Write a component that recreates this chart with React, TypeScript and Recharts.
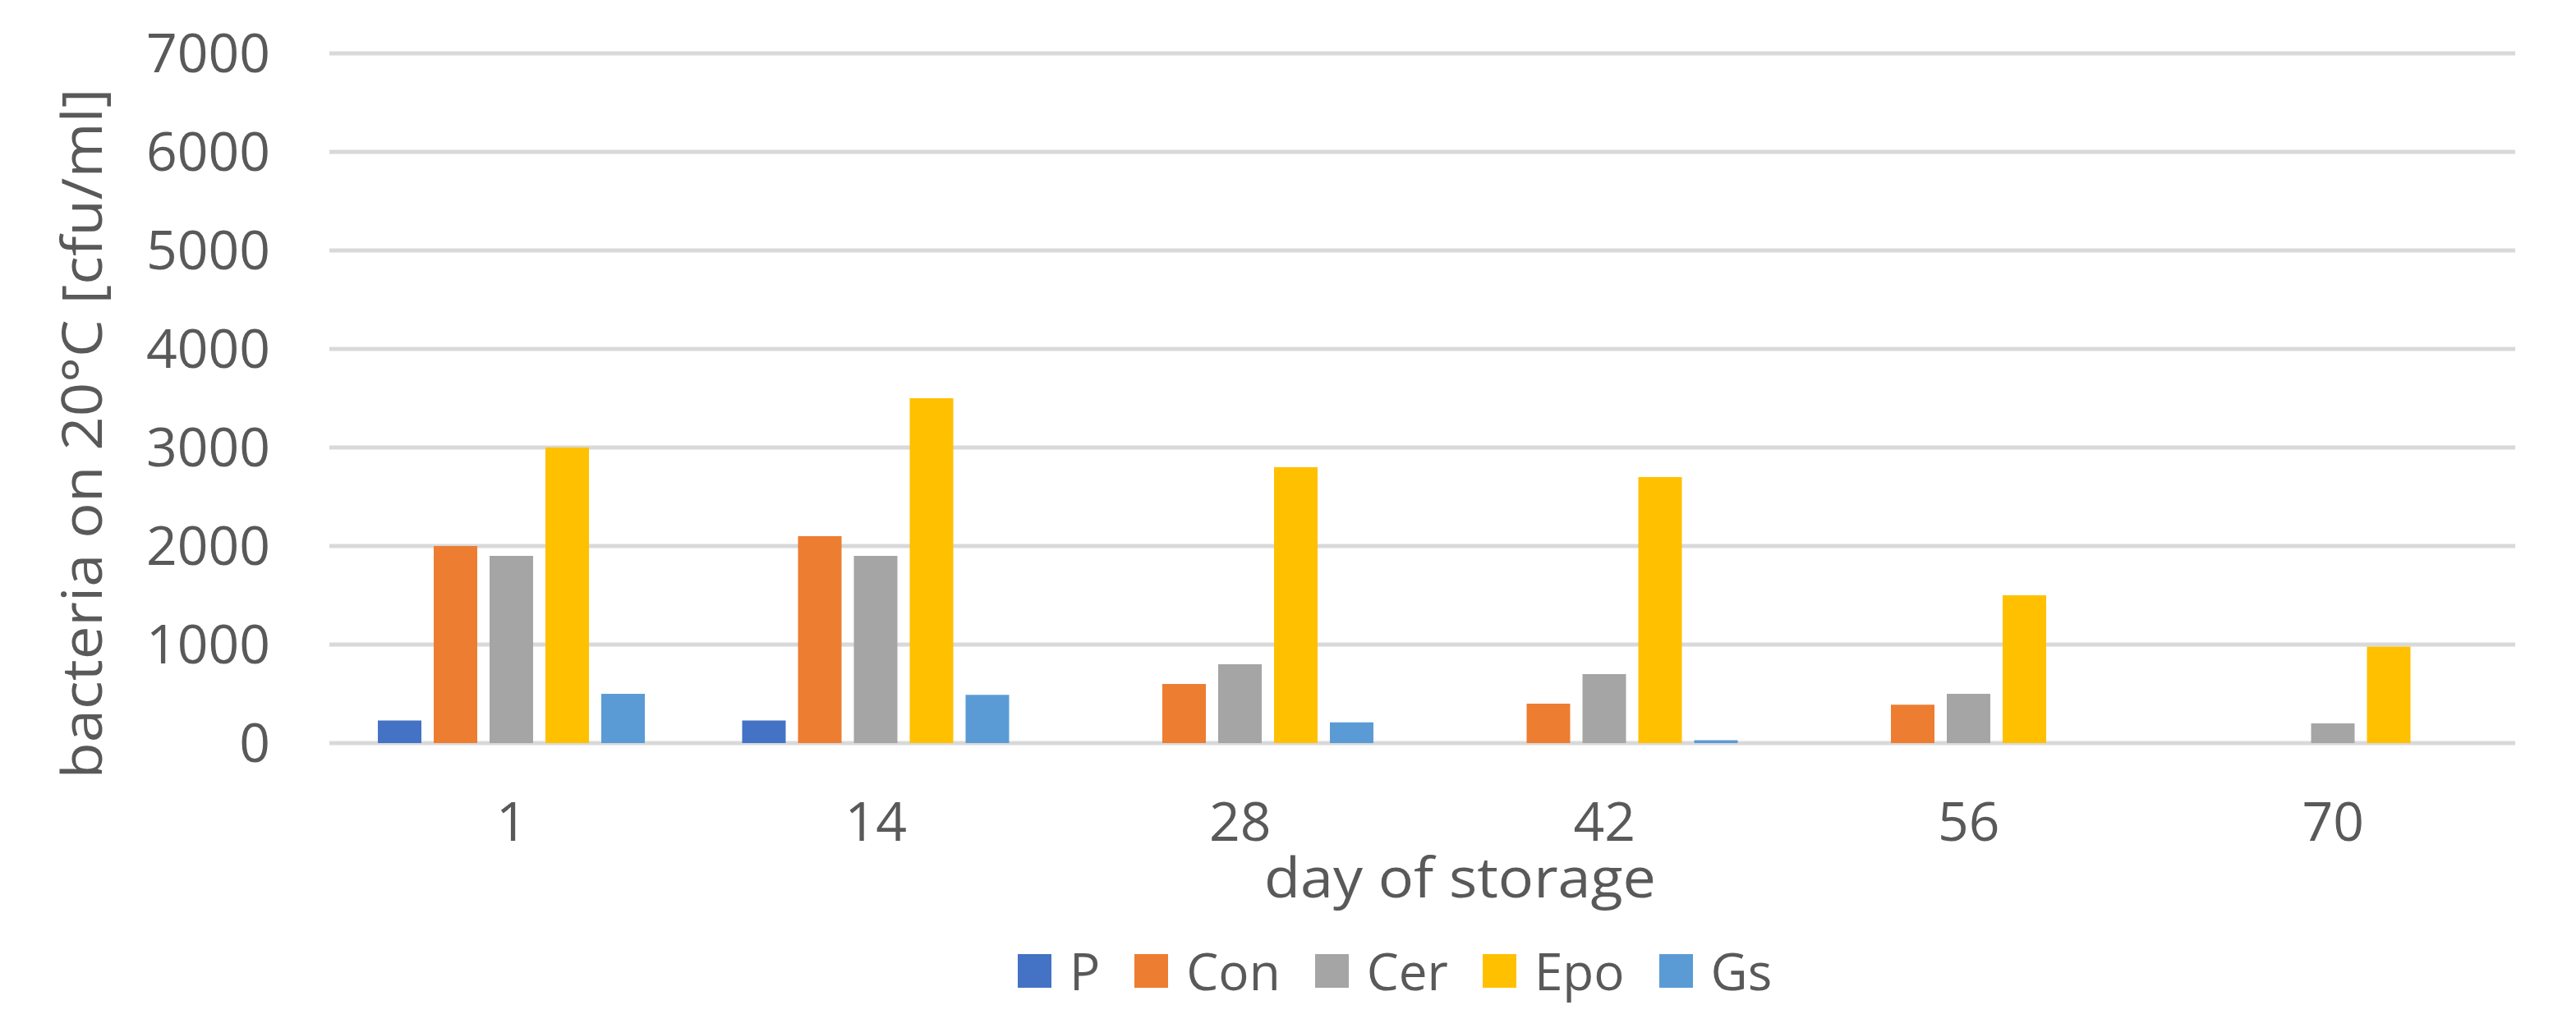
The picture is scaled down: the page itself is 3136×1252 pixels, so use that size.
import React from 'react';
import {
  BarChart,
  Bar,
  XAxis,
  YAxis,
  CartesianGrid,
  Legend,
} from 'recharts';

// days of storage on the category axis
const days = ['1', '14', '28', '42', '56', '70'];

// bacteria on 20°C [cfu/ml], one list per sample
const pValues = [230, 230, 0, 0, 0, 0];
const conValues = [2000, 2100, 600, 400, 390, 0];
const cerValues = [1900, 1900, 800, 700, 500, 200];
const epoValues = [3000, 3500, 2800, 2700, 1500, 980];
const gsValues = [500, 490, 210, 30, 0, 0];

const yTicks = [0, 1000, 2000, 3000, 4000, 5000, 6000, 7000];

const seriesNames = ['P', 'Con', 'Cer', 'Epo', 'Gs'];
const seriesColors = ['#4472C4', '#ED7D31', '#A5A5A5', '#FFC000', '#5B9BD5'];

const chartData = days.map((day, i) => ({
  day,
  P: pValues[i],
  Con: conValues[i],
  Cer: cerValues[i],
  Epo: epoValues[i],
  Gs: gsValues[i],
}));

const FONT = '"Open Sans", "Noto Sans", sans-serif';
const TEXT = '#595959';

const YTitle = (props: any) => {
  const vb = props.viewBox || {};
  const x = vb.x + 124;
  const y = 528;
  return (
    <text
      x={x}
      y={y}
      transform={`rotate(-90, ${x}, ${y})`}
      textAnchor="middle"
      fill={TEXT}
      fontSize={68}
      fontFamily={FONT}
      textLength={841}
      lengthAdjust="spacingAndGlyphs"
    >
      bacteria on 20°C [cfu/ml]
    </text>
  );
};

const XTitle = (props: any) => {
  const vb = props.viewBox || {};
  return (
    <text
      x={vb.x + vb.width / 2 + 46}
      y={vb.y + 188}
      textAnchor="middle"
      fill={TEXT}
      fontSize={68}
      fontFamily={FONT}
      textLength={477}
      lengthAdjust="spacingAndGlyphs"
    >
      day of storage
    </text>
  );
};

const LegendContent = (props: any) => {
  // keep the series order of the bars (the library sorts by name otherwise)
  const items = [...(props.payload || [])].sort(
    (a: any, b: any) => seriesNames.indexOf(a.value) - seriesNames.indexOf(b.value)
  );
  return (
    <div style={{ display: 'flex', alignItems: 'center', height: 60 }}>
      {items.map((item: any) => (
        <div
          key={item.value}
          style={{ display: 'flex', alignItems: 'center', marginRight: 42 }}
        >
          <div style={{ width: 41, height: 41, background: item.color, marginRight: 22 }} />
          <span style={{ fontFamily: FONT, fontSize: 62, color: TEXT, lineHeight: '60px' }}>
            {item.value}
          </span>
        </div>
      ))}
    </div>
  );
};

export default function App() {
  return (
    <div style={{ width: 3136, height: 1252, background: '#ffffff' }}>
      <style>{'body{margin:0}'}</style>
      <BarChart
        width={3136}
        height={1252}
        data={chartData}
        margin={{ top: 65, right: 74, left: 0, bottom: 87 }}
        barCategoryGap={59}
        barGap={15}
      >
        <CartesianGrid vertical={false} stroke="#D9D9D9" strokeWidth={5} />
        <XAxis
          dataKey="day"
          height={200}
          axisLine={false}
          tickLine={false}
          tickSize={0}
          tickMargin={72}
          tick={{ fill: TEXT, fontSize: 66, fontFamily: FONT }}
          label={<XTitle />}
        />
        <YAxis
          width={401}
          domain={[0, 7000]}
          ticks={yTicks}
          interval={0}
          axisLine={false}
          tickLine={false}
          tickSize={0}
          tickMargin={72}
          tick={{ fill: TEXT, fontSize: 66, fontFamily: FONT }}
          label={<YTitle />}
        />
        <Legend
          verticalAlign="bottom"
          content={<LegendContent />}
          wrapperStyle={{ left: 1239, top: 1152, width: 'auto', height: 60 }}
        />
        {seriesNames.map((name, i) => (
          <Bar
            key={name}
            dataKey={name}
            name={name}
            fill={seriesColors[i]}
            isAnimationActive={false}
          />
        ))}
      </BarChart>
    </div>
  );
}
